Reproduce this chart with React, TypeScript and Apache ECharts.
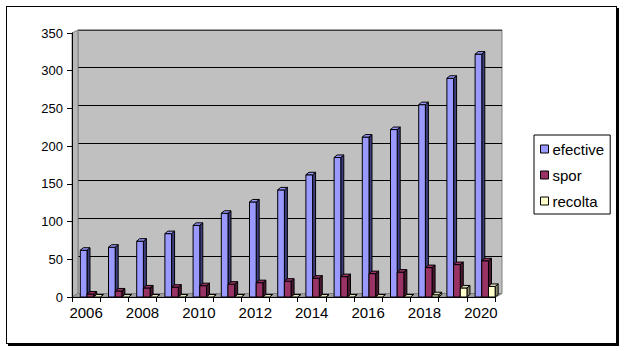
import React, { useEffect, useRef } from "react";
import * as echarts from "echarts";

const years = ["2006", "2007", "2008", "2009", "2010", "2011", "2012", "2013", "2014", "2015", "2016", "2017", "2018", "2019", "2020"];
const efective = [62, 66, 74, 84, 95, 111, 126, 142, 162, 185, 212, 222, 255, 290, 322];
const spor = [4, 8, 12, 13, 15, 17, 19, 21, 25, 27, 31, 33, 39, 43, 48];
const recolta = [0, 0, 0, 0, 0, 0, 0, 0, 0, 0, 0, 0, 3, 12, 14];
const yTicks = { min: 0, max: 350, interval: 50 };

const seriesDefs = [
  { name: "efective", values: efective, front: "#9999FF", side: "#3d3d80", cap: "#9999FF" },
  { name: "spor", values: spor, front: "#993366", side: "#4a1830", cap: "#993366" },
  { name: "recolta", values: recolta, front: "#FFFFCC", side: "#8a8a6a", cap: "#e4e2bc" },
];

const FONT = "'Liberation Sans', Arial, sans-serif";

function makeRender(sIdx: number, def: any) {
  return (params: any, api: any) => {
    const ci = api.value(0);
    const v = api.value(1);
    const top = api.coord([ci, v]);
    const base = api.coord([ci, 0]);
    const catW = api.size([1, 0])[0];
    const bw = catW * 0.237;
    const dx = 3;
    const dy = 2.5;
    const x0 = top[0] - 1.5 * bw + 0.15 * catW + sIdx * bw;
    const yT = top[1];
    const yB = base[1];
    const children: any[] = [];
    children.push({
      type: "polygon",
      shape: { points: [[x0 + bw, yT], [x0 + bw + dx, yT - dy], [x0 + bw + dx, yB - dy], [x0 + bw, yB]] },
      style: { fill: def.side, stroke: "#000", lineWidth: 1 },
    });
    if (yB - yT > 0.5) {
      children.push({
        type: "rect",
        shape: { x: x0, y: yT, width: bw, height: yB - yT },
        style: { fill: def.front, stroke: "#000", lineWidth: 1 },
      });
    }
    children.push({
      type: "polygon",
      shape: { points: [[x0, yT], [x0 + dx, yT - dy], [x0 + bw + dx, yT - dy], [x0 + bw, yT]] },
      style: { fill: def.cap, stroke: "#000", lineWidth: 1 },
    });
    return { type: "group", children };
  };
}

export default function App() {
  const ref = useRef<HTMLDivElement>(null);
  useEffect(() => {
    if (!ref.current) return;
    const chart = echarts.init(ref.current, null, { renderer: "svg" });
    const option: any = {
      animation: false,
      backgroundColor: "transparent",
      grid: [
        { left: 72, top: 33, width: 423, height: 264, show: false },
        { left: 78, top: 30, width: 424, height: 263.5, show: true, backgroundColor: "#c0c0c0", borderColor: "#808080", borderWidth: 1, z: -1 },
      ],
      xAxis: [
        {
          type: "category",
          gridIndex: 0,
          data: years,
          boundaryGap: true,
          axisLine: { show: true, lineStyle: { color: "#000", width: 1 } },
          axisTick: { show: true, interval: 0, length: 5, lineStyle: { color: "#000" } },
          axisLabel: { interval: 1, color: "#000", fontSize: 15, fontFamily: FONT, margin: 8 },
          splitLine: { show: false },
          z: 3,
        },
        { type: "value", gridIndex: 1, show: false, min: 0, max: 1 },
      ],
      yAxis: [
        {
          type: "value",
          gridIndex: 0,
          min: yTicks.min,
          max: yTicks.max,
          interval: yTicks.interval,
          axisLine: { show: true, lineStyle: { color: "#000", width: 1 } },
          axisTick: { show: true, length: 5, lineStyle: { color: "#000" } },
          axisLabel: { color: "#000", fontSize: 13, fontFamily: FONT, margin: 9 },
          splitLine: { show: false },
          z: 3,
        },
        {
          type: "value",
          gridIndex: 1,
          min: yTicks.min,
          max: yTicks.max,
          interval: yTicks.interval,
          axisLine: { show: false },
          axisTick: { show: false },
          axisLabel: { show: false },
          splitLine: { show: true, lineStyle: { color: "#000", width: 1 } },
        },
      ],
      legend: {
        orient: "vertical",
        left: 534,
        top: 135,
        icon: "rect",
        itemWidth: 8,
        itemHeight: 8,
        itemGap: 10,
        padding: [6, 6, 5, 6],
        borderColor: "#000",
        borderWidth: 1,
        backgroundColor: "#fff",
        itemStyle: { borderColor: "#000", borderWidth: 1 },
        textStyle: { color: "#000", fontSize: 15, fontFamily: FONT, lineHeight: 16, padding: [0, 0, 0, -1] },
        data: seriesDefs.map((d) => d.name),
      },
      graphic: [
        {
          type: "polygon",
          z: 1,
          shape: { points: [[72, 33], [78, 30], [78, 293.5], [72, 297]] },
          style: { fill: "#b8b8b8", stroke: "#808080", lineWidth: 1 },
        },
        {
          type: "polygon",
          z: 1,
          shape: { points: [[72, 297], [78, 293.5], [502, 293.5], [496, 297]] },
          style: { fill: "#a0a0a0", stroke: "#808080", lineWidth: 1 },
        },
        {
          type: "line",
          z: 1,
          shape: { x1: 78, y1: 30, x2: 502, y2: 30 },
          style: { stroke: "#808080", lineWidth: 1 },
        },
      ],
      series: seriesDefs.map((def, i) => ({
        type: "custom",
        name: def.name,
        xAxisIndex: 0,
        yAxisIndex: 0,
        z: 5 + i,
        itemStyle: { color: def.front },
        encode: { x: 0, y: 1 },
        data: def.values.map((v, k) => [k, v]),
        renderItem: makeRender(i, def),
      })),
    };
    chart.setOption(option);
    return () => chart.dispose();
  }, []);
  return (
    <div style={{ position: "absolute", left: 0, top: 0, width: 624, height: 351, background: "#fff" }}>
      <div
        style={{
          position: "absolute",
          left: 6,
          top: 6,
          width: 609,
          height: 336,
          border: "1px solid #000",
          boxShadow: "2px 2px 0 #000",
        }}
      />
      <div ref={ref} style={{ position: "absolute", left: 0, top: 0, width: 624, height: 351 }} />
    </div>
  );
}
